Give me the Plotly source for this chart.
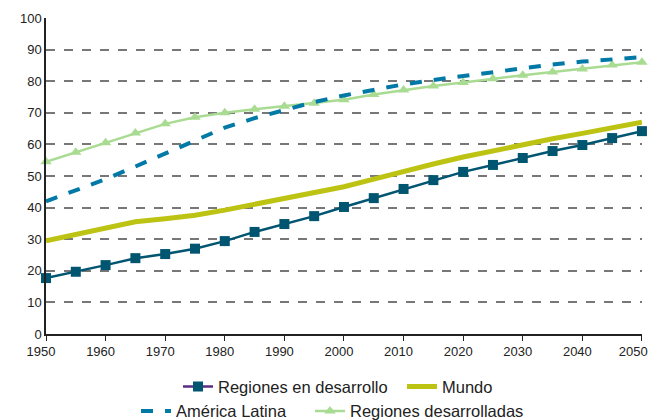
import plotly.graph_objects as go

years = list(range(1950, 2051, 5))
desarrollo = [17.7, 19.7, 21.8, 24.0, 25.3, 27.0, 29.4, 32.3, 34.8, 37.3, 40.2, 43.0, 45.9, 48.7, 51.3, 53.5, 55.7, 57.9, 59.8, 62.0, 64.2]
mundo = [29.5, 31.5, 33.5, 35.5, 36.5, 37.6, 39.2, 41.0, 43.0, 44.7, 46.6, 49.0, 51.5, 53.8, 56.0, 58.0, 60.0, 61.8, 63.5, 65.3, 67.0]
america_latina = [42.0, 45.5, 49.0, 53.0, 57.0, 61.0, 65.3, 68.3, 71.0, 73.4, 75.5, 77.4, 79.0, 80.4, 81.7, 83.0, 84.2, 85.3, 86.2, 87.0, 87.6]
desarrolladas = [54.5, 57.5, 60.5, 63.6, 66.5, 68.6, 70.0, 71.1, 72.1, 73.0, 74.1, 75.8, 77.2, 78.5, 79.6, 80.8, 81.9, 82.9, 83.9, 85.1, 86.0]
x_ticks = list(range(1950, 2051, 10))
x_labels = [str(y) for y in x_ticks[:-1]] + ["2050\u00a0\u00a0"]
y_ticks = list(range(0, 101, 10))

c_des = "#005571"
c_mun = "#BDC313"
c_al = "#0079A6"
c_dda = "#A9DC92"

fig = go.Figure()
fig.add_trace(go.Scatter(x=years, y=desarrolladas, mode="lines+markers", name="Regiones desarrolladas",
                         line=dict(color=c_dda, width=2.5), marker=dict(symbol="triangle-up", size=10, color=c_dda),
                         legend="legend4", cliponaxis=False))
fig.add_trace(go.Scatter(x=years, y=america_latina, mode="lines", name="América Latina",
                         line=dict(color=c_al, width=4, dash="dash"), legend="legend3"))
fig.add_trace(go.Scatter(x=years, y=mundo, mode="lines", name="Mundo",
                         line=dict(color=c_mun, width=5), legend="legend2"))
fig.add_trace(go.Scatter(x=years, y=desarrollo, mode="lines+markers", name="Regiones en desarrollo",
                         line=dict(color=c_des, width=2.5), marker=dict(symbol="square", size=10, color=c_des),
                         showlegend=False, cliponaxis=False))
# legend-only entry (purple line with square marker as in the reference legend)
fig.add_trace(go.Scatter(x=[None], y=[None], mode="lines+markers", name="Regiones en desarrollo",
                         line=dict(color="#5B2C83", width=2.5), marker=dict(symbol="square", size=10, color=c_des),
                         legend="legend"))

grid_kw = dict(showgrid=True, gridcolor="#777777", griddash="dash", gridwidth=1.5)


def leg(x, y):
    return dict(orientation="h", xref="container", yref="container", x=x, xanchor="left",
                y=y, yanchor="middle", font=dict(size=16.5), bgcolor="rgba(0,0,0,0)", itemwidth=30)


fig.update_layout(
    width=654, height=420,
    margin=dict(l=46, r=12, t=18, b=86, autoexpand=False),
    paper_bgcolor="white", plot_bgcolor="white",
    font=dict(family="Liberation Sans, Arial, sans-serif", size=13, color="#222222"),
    xaxis=dict(range=[1950, 2050.01], tickvals=x_ticks, ticktext=x_labels, showgrid=False, zeroline=False,
               automargin=False, showline=True, linecolor="#222222", linewidth=1.5, ticks="outside", ticklen=5,
               tickcolor="#222222", tickfont=dict(size=13), ticklabeloverflow="allow", ticklabelshift=-5),
    yaxis=dict(range=[0, 100], tickvals=y_ticks, zeroline=False, showline=True, automargin=False,
               linecolor="#222222", linewidth=1.5, ticks="", tickfont=dict(size=13), **grid_kw),
    legend=leg(0.2722, 0.079),
    legend2=leg(0.6147, 0.079),
    legend3=leg(0.208, 0.021),
    legend4=leg(0.474, 0.021),
)
fig.write_html("out.html", config={"displayModeBar": False},
               post_script="document.body.style.margin='0px';")
